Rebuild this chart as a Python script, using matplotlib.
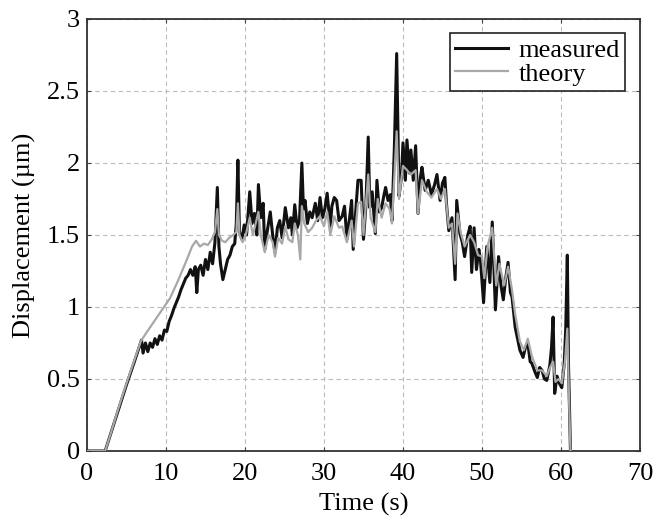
import matplotlib
matplotlib.use("Agg")
import matplotlib.pyplot as plt
from matplotlib.ticker import FuncFormatter

# measured displacement (time in s, displacement in um)
t_meas = [0.0, 2.3, 3.0, 4.0, 5.0, 6.0, 6.6, 6.9, 7.1, 7.4, 7.7, 8.0, 8.3, 8.6, 8.9, 9.2, 9.5, 9.8,
          10.1, 10.4, 10.7, 11.0, 11.3, 11.6, 11.9, 12.2, 12.5, 12.8, 13.1, 13.4, 13.7, 13.9,
          14.1, 14.4, 14.7, 15.0, 15.3, 15.6, 15.9, 16.2, 16.5, 16.7, 16.9, 17.2, 17.5, 17.8,
          18.1, 18.4, 18.7, 18.9, 19.1, 19.3, 19.6, 19.9, 20.2, 20.6, 20.9, 21.2, 21.5, 21.7,
          22.0, 22.3, 22.5, 22.8, 23.2, 23.5, 23.8, 24.1, 24.4, 24.7, 25.1, 25.5, 25.8, 26.0,
          26.3, 26.6, 26.9, 27.2, 27.4, 27.6, 27.9, 28.2, 28.5, 28.9, 29.2, 29.5, 29.8, 30.1,
          30.4, 30.8, 31.0, 31.3, 31.6, 31.9, 32.3, 32.6, 32.9, 33.2, 33.5, 33.7, 34.0, 34.3,
          34.7, 35.0, 35.3, 35.6, 35.8, 36.1, 36.5, 36.7, 37.0, 37.3, 37.6, 37.8, 38.1, 38.4,
          38.6, 38.9, 39.2, 39.5, 39.8, 40.0, 40.3, 40.5, 40.8, 41.0, 41.3, 41.6, 41.9, 42.2,
          42.4, 42.8, 43.2, 43.6, 44.0, 44.3, 44.7, 45.0, 45.3, 45.5, 45.8, 46.2, 46.6, 46.8,
          47.2, 47.5, 47.8, 48.2, 48.5, 48.7, 49.0, 49.3, 49.6, 49.8, 50.2, 50.6, 51.0, 51.3,
          51.7, 52.1, 52.4, 52.7, 53.0, 53.3, 53.6, 53.8, 54.2, 54.5, 54.8, 55.2, 55.5, 55.8,
          56.1, 56.3, 56.7, 57.0, 57.3, 57.6, 57.9, 58.2, 58.6, 58.8, 59.0, 59.2, 59.5, 59.8,
          60.1, 60.4, 60.6, 60.8, 60.95, 61.2, 61.5]
v_meas = [0.0, 0.0, 0.12, 0.29, 0.46, 0.62, 0.72, 0.77, 0.68, 0.75, 0.69, 0.75, 0.72, 0.78, 0.74, 0.8, 0.77, 0.84,
          0.83, 0.9, 0.94, 0.99, 1.03, 1.07, 1.12, 1.16, 1.2, 1.22, 1.26, 1.22, 1.28, 1.1,
          1.26, 1.29, 1.22, 1.33, 1.26, 1.38, 1.3, 1.45, 1.83, 1.42, 1.3, 1.19, 1.26, 1.33,
          1.36, 1.42, 1.44, 1.58, 2.02, 1.52, 1.47, 1.57, 1.5, 1.8, 1.58, 1.65, 1.5, 1.85,
          1.62, 1.72, 1.4, 1.52, 1.66, 1.5, 1.38, 1.55, 1.6, 1.48, 1.69, 1.55, 1.62, 1.5,
          1.71, 1.55, 1.6, 2.0, 1.68, 1.74, 1.58, 1.66, 1.62, 1.72, 1.6, 1.76, 1.62, 1.68,
          1.79, 1.56, 1.7, 1.76, 1.74, 1.6, 1.63, 1.7, 1.47, 1.6, 1.74, 1.4, 1.65, 1.88,
          1.88, 1.47, 1.7, 2.18, 1.69, 1.8, 1.51, 1.88, 1.66, 1.69, 1.78, 1.83, 1.74, 1.78,
          1.6, 2.09, 2.76, 1.77, 1.9, 2.14, 1.88, 2.16, 1.93, 2.09, 1.88, 2.12, 1.65, 1.9,
          1.97, 1.81, 1.88, 1.78, 1.85, 1.92, 1.74, 1.86, 1.9, 1.72, 1.53, 1.62, 1.19, 1.74,
          1.51, 1.45, 1.35, 1.5, 1.56, 1.24, 1.55, 1.26, 1.4, 1.33, 1.03, 1.42, 1.17, 1.59,
          0.98, 1.35, 1.15, 1.05, 1.2, 1.31, 1.1, 1.07, 0.86, 0.78, 0.7, 0.65, 0.72, 0.75,
          0.62, 0.61, 0.55, 0.51, 0.58, 0.56, 0.5, 0.49, 0.6, 0.72, 0.93, 0.4, 0.52, 0.47,
          0.44, 0.6, 0.85, 1.36, 0.6, 0.0, -0.05]

# theoretical displacement
t_theo = [0.0, 2.3, 3.0, 4.0, 5.0, 6.0, 6.8, 7.5, 8.5, 9.5, 10.5, 11.5, 12.5, 13.3, 13.8, 14.3, 14.8,
          15.3, 15.8, 16.2, 16.5, 16.7, 17.1, 17.5, 18.0, 18.5, 18.9, 19.1, 19.3, 19.7, 20.1,
          20.6, 21.0, 21.7, 22.0, 22.5, 23.0, 23.5, 23.8, 24.2, 24.7, 25.1, 25.5, 26.0, 26.3,
          26.7, 27.0, 27.2, 27.5, 28.0, 28.5, 29.0, 29.5, 30.0, 30.4, 30.8, 31.3, 31.9, 32.3,
          32.9, 33.5, 33.8, 34.3, 34.7, 35.0, 35.6, 35.9, 36.5, 36.8, 37.3, 37.8, 38.3, 38.6,
          38.9, 39.2, 39.5, 40.0, 40.5, 41.0, 41.6, 41.9, 42.4, 43.0, 43.6, 44.3, 44.8, 45.3,
          45.8, 46.2, 46.6, 46.9, 47.3, 47.8, 48.5, 49.0, 49.5, 50.0, 50.3, 50.7, 51.3, 51.8,
          52.2, 52.8, 53.3, 53.8, 54.2, 54.8, 55.3, 55.8, 56.3, 57.0, 57.6, 58.2, 58.6, 59.0,
          59.3, 59.7, 60.1, 60.5, 60.8, 61.0, 61.2]
v_theo = [0.0, 0.0, 0.12, 0.3, 0.47, 0.63, 0.76, 0.82, 0.9, 0.98, 1.06, 1.18, 1.31, 1.42, 1.46, 1.42, 1.44,
          1.43, 1.47, 1.52, 1.68, 1.5, 1.46, 1.45, 1.48, 1.5, 1.52, 1.72, 1.5, 1.45, 1.5,
          1.62, 1.5, 1.66, 1.5, 1.38, 1.5, 1.45, 1.35, 1.48, 1.44, 1.56, 1.47, 1.45, 1.58,
          1.5, 1.33, 1.7, 1.58, 1.52, 1.55, 1.6, 1.63, 1.56, 1.66, 1.5, 1.63, 1.55, 1.56,
          1.45, 1.6, 1.42, 1.72, 1.73, 1.5, 1.92, 1.62, 1.52, 1.75, 1.62, 1.72, 1.68, 1.58,
          1.9, 2.22, 1.75, 1.98, 1.95, 1.92, 1.95, 1.65, 1.88, 1.8, 1.76, 1.82, 1.75, 1.82,
          1.55, 1.58, 1.3, 1.65, 1.52, 1.42, 1.5, 1.45, 1.36, 1.35, 1.2, 1.42, 1.55, 1.15,
          1.3, 1.15, 1.28, 1.12, 0.95, 0.76, 0.7, 0.78, 0.66, 0.56, 0.56, 0.52, 0.58, 0.62,
          0.48, 0.5, 0.47, 0.62, 0.85, 0.4, 0.0]

plt.rcParams['font.family'] = ['Liberation Serif', 'DejaVu Serif']

fig = plt.figure(figsize=(6.56, 5.2), dpi=100)
ax = fig.add_axes([0.1326, 0.1327, 0.843, 0.8308])

ax.plot(t_meas, v_meas, color='#111111', lw=2.2, label='measured', zorder=2)
ax.plot(t_theo, v_theo, color='#a8a8a8', lw=1.6, label='theory', zorder=3)

ax.set_xlim(0, 70)
ax.set_ylim(0, 3)
ax.set_xticks(range(0, 71, 10))
ax.set_yticks([0, 0.5, 1, 1.5, 2, 2.5, 3])
ax.yaxis.set_major_formatter(FuncFormatter(lambda v, p: '%g' % v))
ax.tick_params(direction='in', top=True, right=True, labelsize=19, length=3,
               color='#444444')
ax.tick_params(axis='x', pad=9)
ax.tick_params(axis='y', pad=5)
for lab in ax.get_xticklabels() + ax.get_yticklabels():
    lab.set_family('Liberation Serif')
ax.grid(True, ls=(0, (4, 3)), color='#bbbbbb', lw=0.8)
for s in ax.spines.values():
    s.set_linewidth(1.3)
    s.set_color('#333333')

ax.set_xlabel('Time (s)', fontsize=19, labelpad=5)
ax.set_ylabel('Displacement (µm)', fontsize=19, labelpad=8)

leg = ax.legend(loc='upper right', fontsize=19,
                frameon=True, fancybox=False, framealpha=1,
                edgecolor='#222222', handlelength=2.0, handletextpad=0.4,
                borderpad=0.2, labelspacing=0.0, borderaxespad=0.55)
leg.get_frame().set_linewidth(1.2)

fig.savefig('out.png', dpi=100)
